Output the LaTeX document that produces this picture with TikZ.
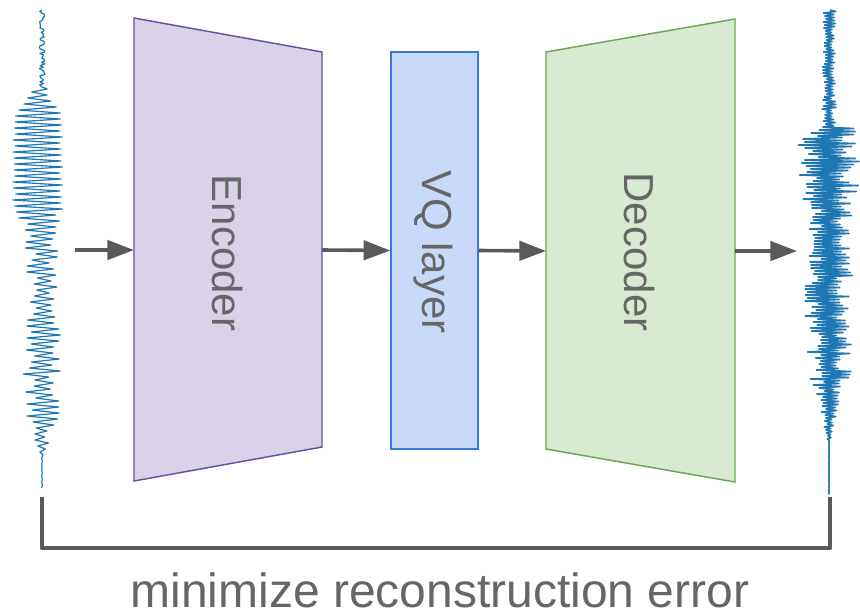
\documentclass[tikz,border=0pt]{standalone}
\usepackage{fontspec}
\setmainfont{Liberation Sans}
\usetikzlibrary{arrows.meta}
\definecolor{encfill}{HTML}{D9D2E9}
\definecolor{encline}{HTML}{674EA7}
\definecolor{vqfill}{HTML}{C9DAF8}
\definecolor{vqline}{HTML}{3C78D8}
\definecolor{decfill}{HTML}{D9EAD3}
\definecolor{decline}{HTML}{6AA84F}
\definecolor{arrowgray}{HTML}{595959}
\definecolor{labelgray}{HTML}{666666}
\definecolor{wavecol}{HTML}{1F77B4}
\begin{document}
\begin{tikzpicture}[x=0.75pt,y=-0.75pt,
  flow/.style={draw=arrowgray, line width=2.7pt, -{Triangle[length=20pt,width=14.5pt]}},
  blockedge/.style={line width=1.1pt, line join=miter},
  blocklabel/.style={text=labelgray, font=\fontsize{31.5}{36}\selectfont, rotate=-90},
  wavestroke/.style={draw=wavecol, line width=0.9pt, line join=round},
  bracket/.style={draw=arrowgray, line width=3.6pt, line join=round},
  declare function={
    envL(\s)=(\s<85)*3 + and(\s>=85,\s<118)*(3+(\s-85)*0.7) + and(\s>=118,\s<212)*25.5
      + and(\s>=212,\s<255)*(24-(\s-212)*0.2) + and(\s>=255,\s<325)*15.5
      + and(\s>=325,\s<412)*19.5 + and(\s>=412,\s<458)*(19-(\s-412)*0.4) + (\s>=458)*0.3;
    offL(\s)=and(\s>=90,\s<240)*(-4);
    regL(\s)=and(\s>=95,\s<215)*0.55;
    envR(\s)=(\s<128)*7 + and(\s>=128,\s<200)*31 + and(\s>=200,\s<330)*24
      + and(\s>=330,\s<380)*22 + and(\s>=380,\s<440)*(17-(\s-380)*0.26) + (\s>=440)*0.5;
  }]
\useasboundingbox (0,0) rectangle (860,615);

% input waveform: quiet noisy lead-in, then the loud part
\pgfmathsetseed{7}
\draw[wavestroke] (42,10) \foreach \t in {11.5,13,...,86} {
  -- ({42+(2*rnd-1)*envL(\t)}, \t) } -- (42,87);
\draw[wavestroke] (42,87) \foreach \t [count=\n] in {89,92,...,490} {
  -- ({42+offL(\t)+(2*mod(\n,2)-1)*envL(\t)*(0.3+regL(\t)+(0.7-regL(\t))*rnd)}, \t) };

% reconstructed waveform
\pgfmathsetseed{11}
\draw[wavestroke, line width=1.2pt] (830,10) \foreach \t [count=\n] in {11.5,13,...,495} {
  -- ({829+(2*mod(\n,2)-1)*envR(\t)*(0.3+0.7*rnd)}, \t) };

% encoder
\draw[blockedge, draw=encline, fill=encfill] (134,18) -- (322,52) -- (322,447) -- (134,481) -- cycle;
\coordinate (encIn) at (134,250);
\coordinate (encOut) at (322,250);
\node[blocklabel] (enclabel) at (228,253) {Encoder};

% vector quantisation layer
\node[blockedge, draw=vqline, fill=vqfill, minimum width=65.25pt, minimum height=297.75pt,
      inner sep=0pt] (vq) at (434.5,250.5) {};
\node[blocklabel] (vqlabel) at (433,252) {VQ layer};

% decoder
\draw[blockedge, draw=decline, fill=decfill] (546,52) -- (735,19) -- (735,482) -- (546,449) -- cycle;
\coordinate (decIn) at (546,251);
\coordinate (decOut) at (735,251);
\node[blocklabel] (declabel) at (640,252) {Decoder};

% data flow
\coordinate (src) at (75,250);
\coordinate (dst) at (797,251);
\draw[flow] (src) -- (encIn);
\draw[flow] (encOut) -- (vq.west);
\draw[flow] (vq.east) -- (decIn);
\draw[flow] (decOut) -- (dst);

% loss bracket
\coordinate (lossL) at (42,497);
\coordinate (lossR) at (830,497);
\draw[bracket] (lossL) -- (42,548) -- (830,548) -- (lossR);
\node[text=labelgray, font=\fontsize{36}{40}\selectfont, anchor=base, inner sep=0pt] (caption)
  at (440,607) {minimize reconstruction error};
\end{tikzpicture}
\end{document}
